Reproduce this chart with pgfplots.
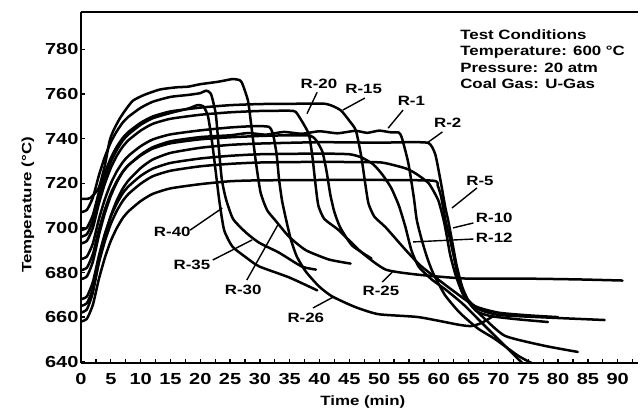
\documentclass[border=0pt]{standalone}
\usepackage{fontspec}
\setmainfont{Liberation Sans}[FakeStretch=1.25, BoldFeatures={FakeStretch=1.25}]
\usepackage{pgfplots}
\pgfplotsset{compat=1.18}
\begin{document}
\begin{tikzpicture}
\pgfplotsset{crv/.style={black, line width=2.5pt, line join=round, line cap=round, smooth, tension=0.35, mark=none}}
\begin{axis}[
 scale only axis, width=557pt, height=351.6pt,
 xmin=0, xmax=93.4, ymin=639.3, ymax=796.9,
 axis x line=box, axis y line=left,
 axis line style={line width=1.8pt, -},
 xtick={0,5,...,90}, minor xtick={2.5,7.5,...,92.5},
 ytick={640,660,...,780},
 xtick pos=left, ytick pos=left,
 tick align=inside, major tick length=4pt, minor tick length=4pt,
 tick style={line width=1.3pt, black},
 /pgf/number format/assume math mode=true,
 ticklabel style={font=\fontsize{16}{16}\selectfont\bfseries},
 xticklabel style={yshift=-6.5pt},
 yticklabel style={xshift=1pt},
 xlabel={Time (min)}, ylabel={Temperature (°C)},
 label style={font=\fontsize{13.5}{13.5}\selectfont\bfseries},
 xlabel style={at={(axis description cs:0.506,-0.111)}, anchor=center},
 ylabel style={at={(axis description cs:-0.0952,0.45)}, anchor=center},
]
% R-30
\addplot[crv] coordinates {(0,713) (1,713) (1.5,713.3) (2,714.5) (3,718) (4,728) (4.8,739) (5.5,744) (6.5,749) (7.5,753) (8.7,757) (10.5,759.5) (13.2,762) (16,763) (18,763.3) (20,764.4) (23,765.5) (25.4,766.7) (26.5,766.3) (27,765) (28,757) (28.6,745) (29.3,730) (30.1,716) (31.2,708) (32.7,703) (34.9,696) (37.7,690) (41.6,685.8) (45.2,684)};
% R-35
\addplot[crv] coordinates {(0,707) (1,708.1) (2,713.6) (3,723.5) (4,731.8) (5,738.4) (6,743.3) (7,747.2) (8,749.9) (10,753.8) (12,756.5) (15,758.7) (18,759.6) (20,760.4) (21,761.5) (21.8,760) (22.6,751) (23.1,736) (23.6,722) (24.3,713) (25.5,704) (27.7,697.8) (29.9,693.3) (33.2,688.9) (37,682.7) (39.4,681.3)};
% R-40
\addplot[crv] coordinates {(0,696) (1,697.2) (2,703.1) (3,713.7) (4,722.6) (5,729.6) (6,734.9) (7,739.1) (8,742) (10,746.2) (12,749.1) (15,751.5) (18,753.5) (19.5,755) (20.5,754.5) (21.3,750) (22,738) (22.6,725) (23.2,712) (24,699) (25.4,691.6) (27.7,686.7) (29.9,682.7) (34.9,677.8) (39.6,672)};
% R-26
\addplot[crv] coordinates {(0,686) (1,687.2) (2,693.1) (3,703.9) (4,712.8) (5,719.9) (6,725.3) (7,729.4) (8,732.4) (10,736.6) (12,739.6) (15,741.9) (20,743.7) (25,745) (29,745.6) (31.5,745.3) (32.2,742) (32.8,733) (33.2,722) (33.7,712.4) (34.4,703.6) (35.2,694.7) (36.2,687.1) (37.7,680.4) (39.9,673.8) (42.1,669.3) (46,664.5) (49.9,661.3) (56.6,660) (63.3,656.6) (65.4,656) (67.1,657.3) (69.1,660.4)};
% R-20
\addplot[crv] coordinates {(0,693) (1,694.2) (2,700.1) (3,710.9) (4,719.8) (5,726.9) (6,732.3) (7,736.4) (8,739.4) (10,743.6) (12,746.6) (15,748.9) (20,750.7) (25,751.8) (30,752.4) (35,752.5) (36,752) (37,748) (38.2,742) (38.8,732) (39.3,720) (39.8,710) (40.8,704) (43.2,699) (47.1,688.9) (51.1,681.3) (56.6,679) (64.4,677.3) (73.3,677.3) (83.3,676.9) (90.8,676.4)};
% R-25
\addplot[crv] coordinates {(0,681) (1,682.2) (2,688.3) (3,699.2) (4,708.2) (5,715.5) (6,720.9) (7,725.2) (8,728.2) (10,732.4) (12,735.5) (15,737.9) (20,739.7) (25,740.6) (30,741.2) (35,741.5) (38.5,741.3) (39.5,739) (40.5,734) (41.2,725) (41.8,715) (42.5,707) (43.5,700) (45.5,692) (48.7,686.3)};
% R-15
\addplot[crv] coordinates {(0,699) (1,700.1) (2,705.8) (3,716) (4,724.5) (5,731.3) (6,736.4) (7,740.3) (8,743.1) (10,747.1) (12,749.9) (15,752.2) (20,753.9) (25,755) (30,755.5) (35,755.6) (41,755.6) (43.5,752.8) (45,748) (46.1,743.6) (47,732) (47.6,721) (48.2,711) (49.2,705) (51.1,700.2) (54.4,690.2) (57.1,682.7) (62.1,672.4) (66.1,664.9) (70,662) (75,660.8) (80,660)};
% R-1
\addplot[crv] coordinates {(0,677) (1,678.3) (2,684.9) (3,696.7) (4,706.6) (5,714.4) (6,720.4) (7,725) (8,728.2) (10,732.8) (12,736.1) (15,738.8) (20,740.7) (25,741.5) (28,742.5) (31,741.8) (34,743) (37,742.2) (40,743.3) (43,742.4) (46,743.5) (48,742.6) (50,743.6) (52,742.8) (53.3,742.7) (53.8,740.4) (54.9,728.9) (55.8,713.8) (56.3,703.6) (57.1,695) (58,687) (59,680) (61,670) (63.5,662) (66.5,655) (69.4,650.2) (73.3,642.7) (75.5,639.5)};
% R-12
\addplot[crv] coordinates {(0,668) (1,669.3) (2,675.8) (3,687.5) (4,697.3) (5,705.1) (6,710.9) (7,715.5) (8,718.7) (10,723.3) (12,726.5) (15,729.1) (20,731.1) (25,732.3) (30,733) (40,733.3) (45,733) (47,731.6) (49,728.5) (50.5,724) (52,718) (53.3,710) (54.4,700.4) (55.4,690) (56.6,682.7) (58.8,676.9) (61.1,672.4) (64,666) (67,658) (70,650) (73,642) (74,639.5)};
% R-10
\addplot[crv] coordinates {(0,665) (1,666.3) (2,672.7) (3,684.4) (4,694) (5,701.8) (6,707.6) (7,712.1) (8,715.3) (10,719.8) (12,723.1) (15,725.6) (20,727.6) (25,728.7) (30,729.3) (40,729.6) (45,729.5) (50.4,729.3) (54.4,726.7) (56.1,724.4) (58.3,720) (59.9,712.4) (60.8,703.6) (61.3,696.9) (61.9,688) (62.8,679) (64.1,670) (66.3,662.7) (68.8,660.4) (73.3,659) (78.3,657.8)};
% R-2
\addplot[crv] coordinates {(0,662) (1,663.5) (2,671.1) (3,684.9) (4,696.3) (5,705.4) (6,712.3) (7,717.6) (8,721.4) (10,726.8) (12,730.6) (15,733.6) (20,735.9) (25,737.2) (30,737.8) (40,738.4) (50,738.2) (55,738.4) (58.3,738) (59.4,733) (60.3,721) (61.1,709) (61.6,703) (62.3,693) (63,683) (64,673) (65.3,665.8) (67.4,660) (71.1,651.6) (77.8,647.1) (83.3,644.4)};
% R-5
\addplot[crv] coordinates {(0,658) (1,659.3) (2,665.6) (3,677.1) (4,686.6) (5,694.2) (6,699.9) (7,704.4) (8,707.5) (10,712) (12,715.2) (15,717.7) (20,719.6) (25,720.9) (30,721.3) (45,721.5) (58.8,721.2) (59.8,719) (60.4,713.8) (61.1,703.6) (61.9,694.7) (62.6,686) (63.3,677) (64.4,669.3) (66.6,663.6) (70,661) (76.6,660) (87.8,658.7)};
% pointers
\draw[line width=1.4pt] (axis cs:39.6,760.8) -- (axis cs:37.9,751.2);
\draw[line width=1.4pt] (axis cs:47.6,758.2) -- (axis cs:43.9,752.8);
\draw[line width=1.4pt] (axis cs:54.0,752.8) -- (axis cs:51.5,744.7);
\draw[line width=1.4pt] (axis cs:60.6,743) -- (axis cs:58.0,738.0);
\draw[line width=1.4pt] (axis cs:66.4,717.9) -- (axis cs:62.2,708.9);
\draw[line width=1.4pt] (axis cs:65.8,702.2) -- (axis cs:62.4,700);
\draw[line width=1.4pt] (axis cs:65.8,695) -- (axis cs:55.7,693.7);
\draw[line width=1.4pt] (axis cs:50.5,675.7) -- (axis cs:52.2,680.2);
\draw[line width=1.4pt] (axis cs:38.9,664.1) -- (axis cs:42.3,669);
\draw[line width=1.4pt] (axis cs:27.8,676.6) -- (axis cs:33.0,701.3);
\draw[line width=1.4pt] (axis cs:22.1,685.6) -- (axis cs:28.7,694.6);
\draw[line width=1.4pt] (axis cs:18.3,699) -- (axis cs:23.7,708.9);
% labels
\begin{scope}[every node/.style={font=\fontsize{13.5}{13.5}\selectfont\bfseries, inner sep=0pt, anchor=center}]
\node at (axis cs:39.9,764.5) {R-20};
\node at (axis cs:47.4,762.2) {R-15};
\node at (axis cs:55.4,756.9) {R-1};
\node at (axis cs:61.5,747.2) {R-2};
\node at (axis cs:66.9,721) {R-5};
\node at (axis cs:69.3,704.4) {R-10};
\node at (axis cs:69.3,695.5) {R-12};
\node at (axis cs:50.3,671.7) {R-25};
\node at (axis cs:37.7,659.6) {R-26};
\node at (axis cs:27.2,672.2) {R-30};
\node at (axis cs:18.6,683.4) {R-35};
\node at (axis cs:15.3,698.2) {R-40};
\end{scope}
\node[anchor=north west, align=left, inner sep=0pt, font=\fontsize{13.5}{16.5}\selectfont\bfseries] at (axis cs:63.57,789.1) {Test Conditions\\Temperature: 600 °C\\Pressure: 20 atm\\Coal Gas: U-Gas};
\end{axis}
\pgfresetboundingbox
\path ([shift={(-81pt,-50.7pt)}]current axis.south west) rectangle ([shift={(2pt,11.7pt)}]current axis.north east);
\end{tikzpicture}
\end{document}
